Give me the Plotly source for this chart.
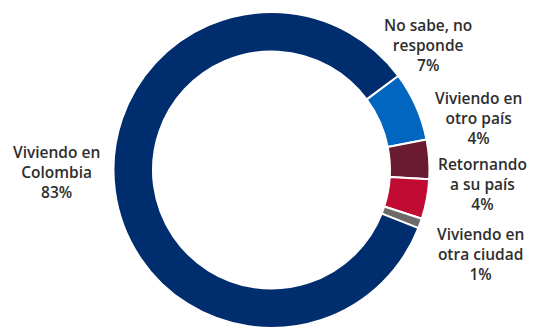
import plotly.graph_objects as go

# Survey answers, in clockwise order starting from the light-blue slice
categories = [
    "No sabe, no<br>responde",
    "Viviendo en<br>otro país",
    "Retornando<br>a su país",
    "Viviendo en<br>otra ciudad",
    "Viviendo en<br>Colombia",
]
values = [7, 4, 4, 1, 83]
colors = ["#0066bf", "#6a1a31", "#c20b32", "#6e6a6a", "#002d6e"]

# Centre of each outside label block, in paper fractions
label_x = [0.8006, 0.8957, 0.9036, 0.8989, 0.1062]
label_y = [0.8956, 0.6636, 0.4547, 0.2332, 0.4946]

fig = go.Figure(
    go.Pie(
        labels=[c.replace("<br>", " ") for c in categories],
        values=values,
        hole=0.75,
        sort=False,
        direction="clockwise",
        rotation=53.4,
        marker=dict(colors=colors, line=dict(color="white", width=2)),
        textinfo="none",
        hoverinfo="label+percent",
        domain=dict(x=[0.2125, 0.8043], y=[0, 1]),
        showlegend=False,
    )
)

for cat, val, x, y in zip(categories, values, label_x, label_y):
    fig.add_annotation(
        x=x, y=y, xref="paper", yref="paper",
        text=f"{cat}<br>{val}%",
        showarrow=False,
        align="center",
        xanchor="center", yanchor="middle",
        font=dict(family="Open Sans", size=15.5, color="#2e2e2e", weight=600),
    )

fig.update_layout(
    width=534, height=328,
    margin=dict(l=0, r=0, t=12, b=0),
    paper_bgcolor="white",
    plot_bgcolor="white",
)

fig.write_html("out.html")
